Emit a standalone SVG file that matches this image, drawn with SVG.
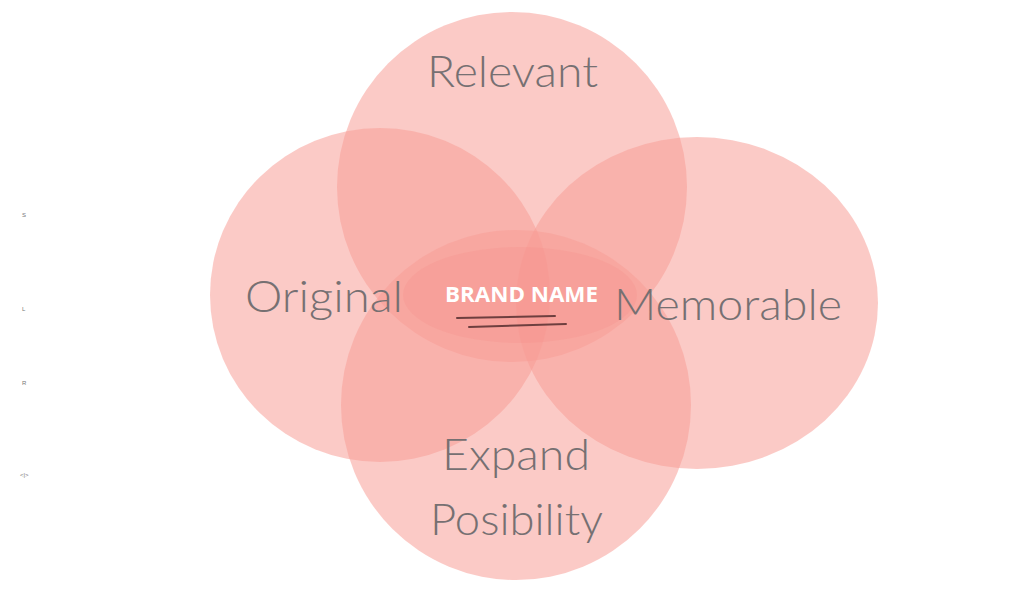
<svg xmlns="http://www.w3.org/2000/svg" width="1024" height="591" viewBox="0 0 1024 591">
<style>
.c{fill:#f89d96;fill-opacity:0.54}
.e{fill:#f58a82;fill-opacity:0.22}
.lbl{font-family:Lato,"Open Sans",sans-serif;font-weight:300;fill:#767072;font-size:43px}
.tiny{font-family:"Liberation Sans",sans-serif;fill:#777;font-size:6px}
.brand{font-family:"Open Sans","Liberation Sans",sans-serif;font-weight:bold;fill:#ffffff;font-size:21px}
.ul{stroke:#6e3f3f;stroke-width:2;stroke-linecap:round;fill:none}
</style>
<rect width="1024" height="591" fill="#ffffff"/>
<g id="side-labels">
<text class="tiny" x="22" y="217">S</text>
<text class="tiny" x="22" y="311">L</text>
<text class="tiny" x="22" y="385">R</text>
<text class="tiny" x="20" y="477">&lt;|&gt;</text>
</g>
<g id="relevant">
<circle class="c" cx="512" cy="187" r="175"/>
</g>
<g id="original">
<ellipse class="c" cx="380" cy="295" rx="170" ry="167"/>
</g>
<g id="memorable">
<ellipse class="c" cx="697" cy="303" rx="181" ry="166"/>
</g>
<g id="expand">
<circle class="c" cx="516" cy="405" r="175"/>
</g>
<g id="brand">
<ellipse class="e" cx="520" cy="295" rx="117" ry="48"/>
</g>
<g id="labels">
<text class="lbl" x="427" y="87" textLength="171" lengthAdjust="spacingAndGlyphs">Relevant</text>
<text class="lbl" x="245" y="312" textLength="158" lengthAdjust="spacingAndGlyphs">Original</text>
<text class="lbl" x="614" y="320" textLength="228" lengthAdjust="spacingAndGlyphs">Memorable</text>
<text class="lbl" x="442" y="470" textLength="148" lengthAdjust="spacingAndGlyphs">Expand</text>
<text class="lbl" x="430" y="535" textLength="173" lengthAdjust="spacingAndGlyphs">Posibility</text>
<text class="brand" x="445" y="302" textLength="153" lengthAdjust="spacingAndGlyphs">BRAND NAME</text>
</g>
<g id="connectors">
<path class="ul" d="M457 318 L555 316"/>
<path class="ul" d="M469 327 L566 324"/>
</g>
</svg>
